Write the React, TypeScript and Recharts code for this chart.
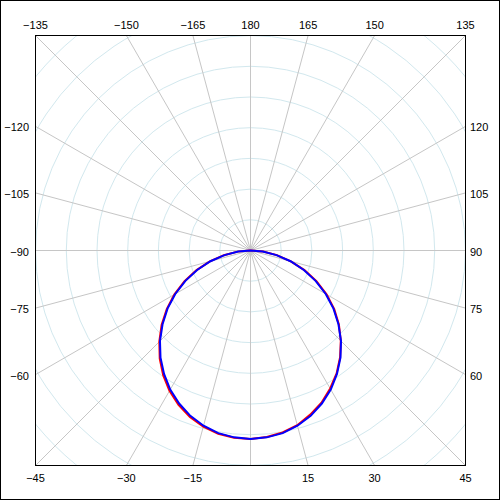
import React from "react";
import {
  RadarChart,
  Radar,
  PolarGrid,
  PolarAngleAxis,
  PolarRadiusAxis,
} from "recharts";

// angle of each sample, degrees (0 = down, 90 = right, 180 = up)
const angles = [
  -90, -85, -80, -75, -70, -65, -60, -55, -50, -45, -40, -35, -30, -25, -20,
  -15, -10, -5, 0, 5, 10, 15, 20, 25, 30, 35, 40, 45, 50, 55, 60, 65, 70, 75,
  80, 85, 90,
];

// red trace (measured)
const measured = [
  0.02, 0.42, 0.88, 1.37, 1.87, 2.37, 2.86, 3.33, 3.78, 4.2, 4.6, 4.96, 5.28,
  5.55, 5.77, 5.94, 6.06, 6.12, 6.14, 6.1, 6.02, 5.89, 5.69, 5.47, 5.19, 4.89,
  4.54, 4.16, 3.76, 3.33, 2.86, 2.37, 1.87, 1.36, 0.87, 0.41, 0.01,
];

// blue trace (model)
const model = [
  0, 0.4, 0.86, 1.35, 1.85, 2.34, 2.83, 3.3, 3.74, 4.17, 4.56, 4.91, 5.23, 5.5,
  5.73, 5.91, 6.04, 6.11, 6.14, 6.11, 6.04, 5.91, 5.73, 5.5, 5.23, 4.91, 4.56,
  4.17, 3.74, 3.3, 2.83, 2.34, 1.85, 1.35, 0.86, 0.4, 0,
];

const angleTicks = [
  -165, -150, -135, -120, -105, -90, -75, -60, -45, -30, -15, 0, 15, 30, 45, 60,
  75, 90, 105, 120, 135, 150, 165, 180,
];
const ringTicks = [0, 1, 2, 3, 4, 5, 6, 7, 8, 9, 10];

const data = angles.map((angle, i) => ({
  angle,
  measured: measured[i],
  model: model[i],
}));

const CX = 250.5;
const CY = 250.5;
const HALF = 215; // half size of the square plot frame
const FRAME_MIN = 35;
const FRAME_MAX = 465;

function EdgeTick(props: any) {
  const { payload } = props;
  const value = payload.value;
  if (value === 0) return null; // the reference leaves 0 unlabelled
  const a = (payload.coordinate * Math.PI) / 180;
  const dx = Math.cos(a);
  const dy = -Math.sin(a);
  const m = Math.max(Math.abs(dx), Math.abs(dy));
  const px = CX + (HALF * dx) / m;
  const py = CY + (HALF * dy) / m;
  const label = value < 0 ? "\u2212" + Math.abs(value) : String(value);

  let x = px;
  let y = py;
  let anchor: "start" | "middle" | "end" = "middle";
  if (Math.abs(dy) >= Math.abs(dx) - 1e-6) {
    y = dy < 0 ? FRAME_MIN - 6 : FRAME_MAX + 17;
  } else if (dx < 0) {
    x = FRAME_MIN - 6;
    y = py + 5;
    anchor = "end";
  } else {
    x = FRAME_MAX + 5;
    y = py + 5;
    anchor = "start";
  }
  return (
    <text
      x={x}
      y={y}
      textAnchor={anchor}
      fill="#000"
      fontSize={11}
      fontFamily="'Liberation Sans', Arial, sans-serif"
    >
      {label}
    </text>
  );
}

export default function App() {
  return (
    <div
      className="polar-plot"
      style={{
        position: "absolute",
        left: 0,
        top: 0,
        width: 500,
        height: 500,
        background: "#fff",
      }}
    >
      <style>{`
        .polar-plot .recharts-polar-grid,
        .polar-plot .recharts-radar {
          clip-path: url(#plot-frame);
        }
      `}</style>
      <svg width={0} height={0} style={{ position: "absolute" }}>
        <defs>
          <clipPath id="plot-frame">
            <rect x={36} y={36} width={429} height={429} />
          </clipPath>
        </defs>
      </svg>

      <div style={{ position: "absolute", left: 0, top: 0 }}>
        <RadarChart
          width={500}
          height={500}
          data={data}
          cx={CX}
          cy={CY}
          innerRadius={0}
          outerRadius={307}
          startAngle={-270}
          endAngle={90}
          margin={{ top: 0, right: 0, bottom: 0, left: 0 }}
        >
          <PolarGrid
            gridType="circle"
            radialLines={false}
            stroke="#d2e8ee"
            strokeWidth={1}
          />
          <PolarGrid
            gridType="circle"
            polarRadius={[]}
            stroke="#c6c6c6"
            strokeWidth={1}
          />
          <PolarAngleAxis
            dataKey="angle"
            type="number"
            domain={[-180, 180]}
            ticks={angleTicks}
            axisLine={false}
            tickLine={false}
            tick={<EdgeTick />}
          />
          <PolarRadiusAxis
            type="number"
            domain={[0, 10]}
            ticks={ringTicks}
            tickCount={11}
            axisLine={false}
            tick={false}
          />
          <Radar
            dataKey="measured"
            stroke="#ff0000"
            strokeWidth={2}
            fill="none"
            fillOpacity={0}
            dot={false}
            isAnimationActive={false}
          />
          <Radar
            dataKey="model"
            stroke="#0000ff"
            strokeWidth={2}
            fill="none"
            fillOpacity={0}
            dot={false}
            isAnimationActive={false}
          />
        </RadarChart>
      </div>

      <div
        style={{
          position: "absolute",
          left: FRAME_MIN,
          top: FRAME_MIN,
          width: FRAME_MAX - FRAME_MIN + 1,
          height: FRAME_MAX - FRAME_MIN + 1,
          boxSizing: "border-box",
          border: "1px solid #000",
          pointerEvents: "none",
        }}
      />
      <div
        style={{
          position: "absolute",
          inset: 0,
          boxSizing: "border-box",
          border: "1px solid #000",
          pointerEvents: "none",
        }}
      />
    </div>
  );
}
